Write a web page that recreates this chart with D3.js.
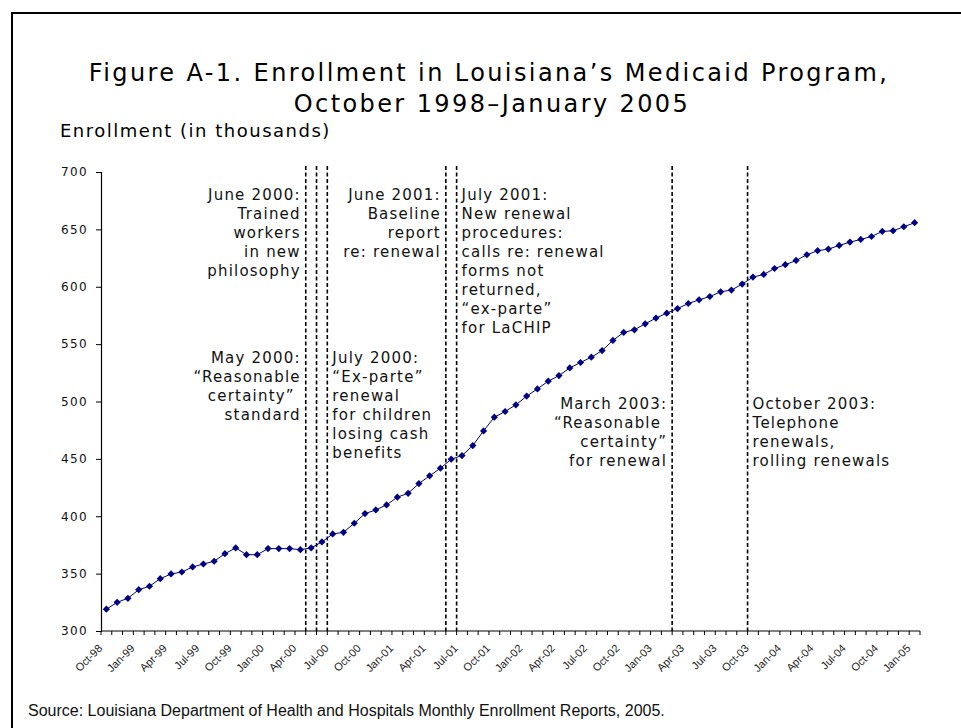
<!DOCTYPE html>
<html>
<head>
<meta charset="utf-8">
<script src="https://cdn.jsdelivr.net/npm/d3@7"></script>
<style>
  body { margin: 0; background: #fff; }
  svg { display: block; }
  .note { font-family: "DejaVu Sans", Verdana, sans-serif; font-size: 15px; letter-spacing: 1.2px; fill: #111; white-space: pre; }
</style>
</head>
<body>
<svg id="chart" width="961" height="728"></svg>
<script>
/* Louisiana Medicaid enrollment, monthly, Oct 1998 - Jan 2005 (thousands).
   Values. */
const months = d3.timeMonth.range(new Date(1998, 9, 1), new Date(2005, 1, 1));
const enrollment = [
    319, 325, 328.5, 336, 339, 345.6, 349.7, 351.4, 355.8, 358.4, 360.8, 367.4,
    372.4, 366.5, 366.5, 371.8, 371.8, 371.8, 370.9, 372.4, 377.6, 384.6, 386, 393.9,
    402.3, 405.5, 409.9, 416.6, 420, 428.5, 435.2, 441.9, 449.7, 452.9, 461.6, 474.4,
    486.3, 491.3, 497.1, 504.7, 511, 517.7, 522.6, 529.3, 534, 538.6, 544.4, 553.2,
    560.2, 562.5, 567.7, 572.7, 577, 581, 585.4, 588.6, 591.5, 595.6, 597.1, 602.3,
    608.4, 610.7, 615.9, 619.2, 622.9, 627.9, 631.4, 632.8, 636, 638.9, 641.2, 643.8,
    648.2, 648.8, 652.3, 655.8
];
const tickLabels = [
    "Oct-98", "Jan-99", "Apr-99", "Jul-99", "Oct-99", "Jan-00", "Apr-00", "Jul-00",
    "Oct-00", "Jan-01", "Apr-01", "Jul-01", "Oct-01", "Jan-02", "Apr-02", "Jul-02",
    "Oct-02", "Jan-03", "Apr-03", "Jul-03", "Oct-03", "Jan-04", "Apr-04", "Jul-04",
    "Oct-04", "Jan-05"
];
const yTicks = [300, 350, 400, 450, 500, 550, 600, 650, 700];

// policy changes: month of change and the note printed beside its line
const eventMonths = ["2000-05", "2000-06", "2000-07", "2001-06", "2001-07", "2003-03", "2003-10"];
const eventNotes = [
    ["May 2000:", "“Reasonable", "certainty”\u00a0", "standard"],
    ["June 2000:", "Trained", "workers", "in new", "philosophy"],
    ["July 2000:", "“Ex-parte”", "renewal", "for children", "losing cash", "benefits"],
    ["June 2001:", "Baseline", "report", "re: renewal"],
    ["July 2001:", "New renewal", "procedures:", "calls re: renewal", "forms not", "returned,", "“ex-parte”", "for LaCHIP"],
    ["March 2003:", "“Reasonable\u00a0", "certainty”", "for renewal"],
    ["October 2003:", "Telephone", "renewals,", "rolling renewals"]
];

const svg = d3.select('#chart');
const PLOT = {left: 101, right: 920, top: 172, bottom: 631};

// frame around the whole figure (right/bottom edges fall off the page)
svg.append('rect')
    .attr('x', 12).attr('y', 13)
    .attr('width', 1000).attr('height', 800)
    .attr('fill', 'none').attr('stroke', '#000').attr('stroke-width', 2);

svg.append('text')
    .attr('x', 489).attr('y', 81)
    .attr('text-anchor', 'middle')
    .style('font-family', '"DejaVu Sans", Verdana, sans-serif')
    .style('font-size', '24px').style('letter-spacing', '2.4px')
    .text('Figure A-1. Enrollment in Louisiana’s Medicaid Program,');
svg.append('text')
    .attr('x', 492).attr('y', 112)
    .attr('text-anchor', 'middle')
    .style('font-family', '"DejaVu Sans", Verdana, sans-serif')
    .style('font-size', '24px').style('letter-spacing', '2.4px')
    .text('October 1998–January 2005');
svg.append('text')
    .attr('x', 60).attr('y', 137)
    .style('font-family', '"DejaVu Sans", Verdana, sans-serif')
    .style('font-size', '18px').style('letter-spacing', '1.5px')
    .text('Enrollment (in thousands)');

const x = d3.scaleBand()
    .domain(d3.range(months.length))
    .range([PLOT.left, PLOT.right])
    .padding(0);
const y = d3.scaleLinear()
    .domain([300, 700])
    .range([PLOT.bottom, PLOT.top]);

// y axis
const yAxis = svg.append('g')
    .attr('transform', `translate(${PLOT.left},0)`)
    .call(d3.axisLeft(y).tickValues(yTicks).tickSize(5).tickPadding(8));
yAxis.select('.domain').attr('stroke-width', 1.2);
yAxis.selectAll('text')
    .style('font-family', '"DejaVu Sans", Verdana, sans-serif')
    .style('font-size', '12px').style('letter-spacing', '1.4px')
    .attr('fill', '#111');

// x axis: a tick at every month boundary, a label every quarter
const boundaries = d3.range(months.length + 1).map(i => i < months.length ? x(i) : PLOT.right);
const xAxis = svg.append('g');
xAxis.append('line')
    .attr('x1', PLOT.left).attr('x2', PLOT.right)
    .attr('y1', PLOT.bottom).attr('y2', PLOT.bottom)
    .attr('stroke', '#000').attr('stroke-width', 1.2);
xAxis.selectAll('line.tick')
    .data(boundaries)
    .join('line')
    .attr('class', 'tick')
    .attr('x1', d => d).attr('x2', d => d)
    .attr('y1', PLOT.bottom).attr('y2', PLOT.bottom + 4)
    .attr('stroke', '#000');
xAxis.selectAll('text')
    .data(tickLabels)
    .join('text')
    .attr('transform', (d, i) => `translate(${x(i * 3) + 2},${PLOT.bottom + 18}) rotate(-45)`)
    .attr('text-anchor', 'end')
    .style('font-family', '"Liberation Sans", Arial, sans-serif')
    .style('font-size', '11px')
    .attr('fill', '#222')
    .text(d => d);

// event lines
const monthKey = d3.timeFormat('%Y-%m');
const eventIndex = eventMonths.map(m => months.findIndex(d => monthKey(d) === m));
svg.append('g').selectAll('line')
    .data(eventIndex)
    .join('line')
    .attr('x1', i => x(i)).attr('x2', i => x(i))
    .attr('y1', PLOT.top - 6).attr('y2', PLOT.bottom)
    .attr('stroke', '#000')
    .attr('stroke-width', 1.6)
    .attr('stroke-dasharray', '4,2.5');

// where each note sits: which line it hangs off, which side, which row
const rowBaseline = [199.5, 362.5, 408.5];
const LINE_STEP = 19;
const placement = [
    {ref: 0, side: 'left', row: 1},
    {ref: 0, side: 'left', row: 0},
    {ref: 2, side: 'right', row: 1},
    {ref: 3, side: 'left', row: 0},
    {ref: 4, side: 'right', row: 0},
    {ref: 5, side: 'left', row: 2},
    {ref: 6, side: 'right', row: 2}
];
eventNotes.forEach((lines, k) => {
    let p = placement[k];
    let lx = x(eventIndex[p.ref]);
    let tx = p.side === 'left' ? lx - 5 : lx + 5;
    let t = svg.append('text')
        .attr('class', 'note')
        .attr('text-anchor', p.side === 'left' ? 'end' : 'start')
        .attr('x', tx)
        .attr('y', rowBaseline[p.row]);
    lines.forEach((s, j) => {
        t.append('tspan')
            .attr('x', tx)
            .attr('y', rowBaseline[p.row] + j * LINE_STEP)
            .text(s);
    });
});

// enrollment series
const cx = i => x(i) + x.bandwidth() / 2;
svg.append('path')
    .datum(enrollment)
    .attr('fill', 'none')
    .attr('stroke', '#000080')
    .attr('stroke-width', 1)
    .attr('d', d3.line().x((d, i) => cx(i)).y(d => y(d)));
svg.append('g').selectAll('path')
    .data(enrollment)
    .join('path')
    .attr('transform', (d, i) => `translate(${cx(i)},${y(d)})`)
    .attr('d', 'M0,-3.6L3.6,0L0,3.6L-3.6,0Z')
    .attr('fill', '#000080');

svg.append('text')
    .attr('x', 28).attr('y', 716)
    .style('font-family', '"Liberation Sans", Arial, sans-serif')
    .style('font-size', '16px')
    .attr('fill', '#111')
    .text('Source: Louisiana Department of Health and Hospitals Monthly Enrollment Reports, 2005.');
</script>
</body>
</html>
